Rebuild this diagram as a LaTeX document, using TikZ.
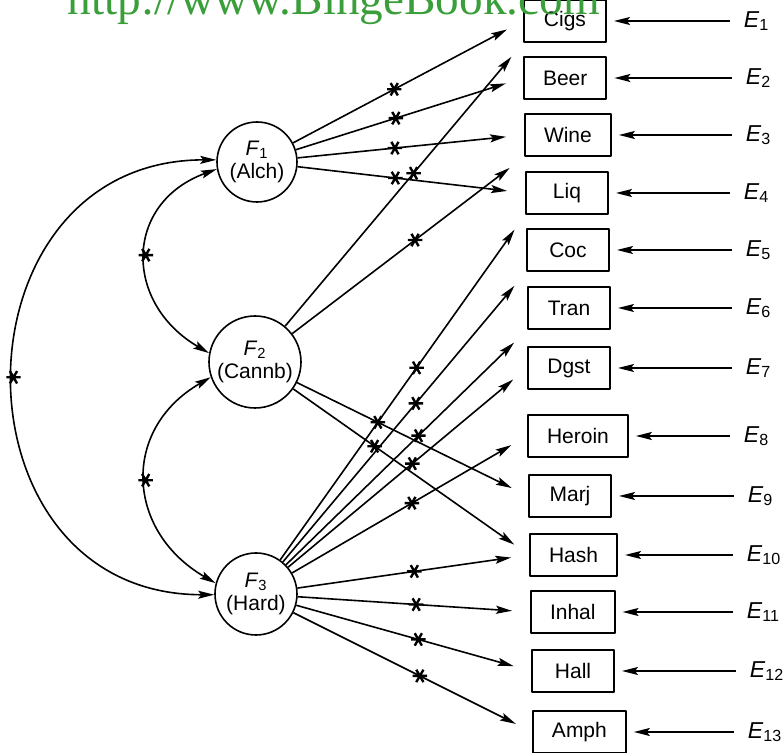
\documentclass[tikz,border=0pt]{standalone}
\usepackage{fontspec}
\setsansfont{Liberation Sans}
\newfontfamily\urlfont{Liberation Serif}
\usetikzlibrary{arrows.meta}
\definecolor{urlgreen}{RGB}{58,158,58}
\begin{document}
\begin{tikzpicture}[x=0.5pt,y=-0.5pt,line join=round,line width=0.8pt,>={Stealth[length=8pt,width=4pt,inset=1.5pt]}]
	\tikzset{every node/.style={font=\sffamily\fontsize{10.5}{11.5}\selectfont},
		factor/.style={draw,circle,inner sep=0pt,align=center},
		measure/.style={draw,line width=1pt,minimum height=21pt,minimum width=41pt,inner xsep=9.5pt,anchor=west},
		resid/.style={inner sep=0pt,anchor=west,font=\sffamily\fontsize{11.5}{12}\selectfont},
		fixed/.pic={\draw[-,shorten >=0pt,shorten <=0pt,line width=1.2pt] (-3.6pt,0)--(3.6pt,0) (-1.8pt,-3.1pt)--(1.8pt,3.1pt) (-1.8pt,3.1pt)--(1.8pt,-3.1pt);}}
	\useasboundingbox (0,0) rectangle (784,753);
	% factors
	\node[factor,minimum size=40pt] (F1) at (257,162) {\textit{F}\textsubscript{1}\\(Alch)};
	\node[factor,minimum size=46pt] (F2) at (255,362) {\textit{F}\textsubscript{2}\\(Cannb)};
	\node[factor,minimum size=41pt] (F3) at (256,594) {\textit{F}\textsubscript{3}\\(Hard)};
	% measured variables and residuals
	\foreach \n/\i/\x/\y/\e in {Cigs/1/523/21/743, Beer/2/523/78/745, Wine/3/524/135/745, Liq/4/525/193/743,
		Coc/5/526/250/745, Tran/6/527/308/745, Dgst/7/527/368/745, Heroin/8/527/436/743, Marj/9/528/496/747,
		Hash/10/529/555/746, Inhal/11/530/612/746, Hall/12/531/671/749, Amph/13/532/732/747}{
		\node[measure] (\n) at (\x,\y) {\n};
		\node[resid] (E\i) at (\e,\y) {\textit{E}\textsubscript{\i}};
		\draw[->,shorten <=6.5pt,shorten >=3.5pt] (E\i.west) -- (\n.east);
	}
	% loadings
	\foreach \f/\b/\p in {F1/Cigs.west/.44, F1/Beer.west/.44, F1/Wine.west/.43, F1/Liq.west/.43,
		F2/Cigs.south west/.54, F2/Wine.south west/.53, F2/Marj.west/.35, F2/Hash.west/.345,
		F3/Liq.south west/.557, F3/Coc.south west/.547, F3/Tran.south west/.55, F3/Dgst.west/.52,
		F3/Heroin.west/.51, F3/Hash.west/.505, F3/Inhal.west/.51, F3/Hall.west/.52, F3/Amph.west/.53}
	\draw[->,shorten >=9pt] (\f) -- (\b) pic[pos=\p]{fixed};
	% covariances
	\draw[<->] (F1.177) .. controls +(-269,0) and +(-269,0) .. (F3.181) pic[pos=.5]{fixed};
	\draw[<->] (F1.190) .. controls +(-93,34) and +(-86,-50) .. (F2.169) pic[pos=.5]{fixed};
	\draw[<->] (F2.199) .. controls +(-90,52) and +(-90,-52) .. (F3.165) pic[pos=.5]{fixed};
	\node[font=\urlfont\fontsize{23.6}{24}\selectfont,text=urlgreen,anchor=base west,inner sep=0pt] (url) at (67,15) {http://www.BingeBook.com};
\end{tikzpicture}
\end{document}
